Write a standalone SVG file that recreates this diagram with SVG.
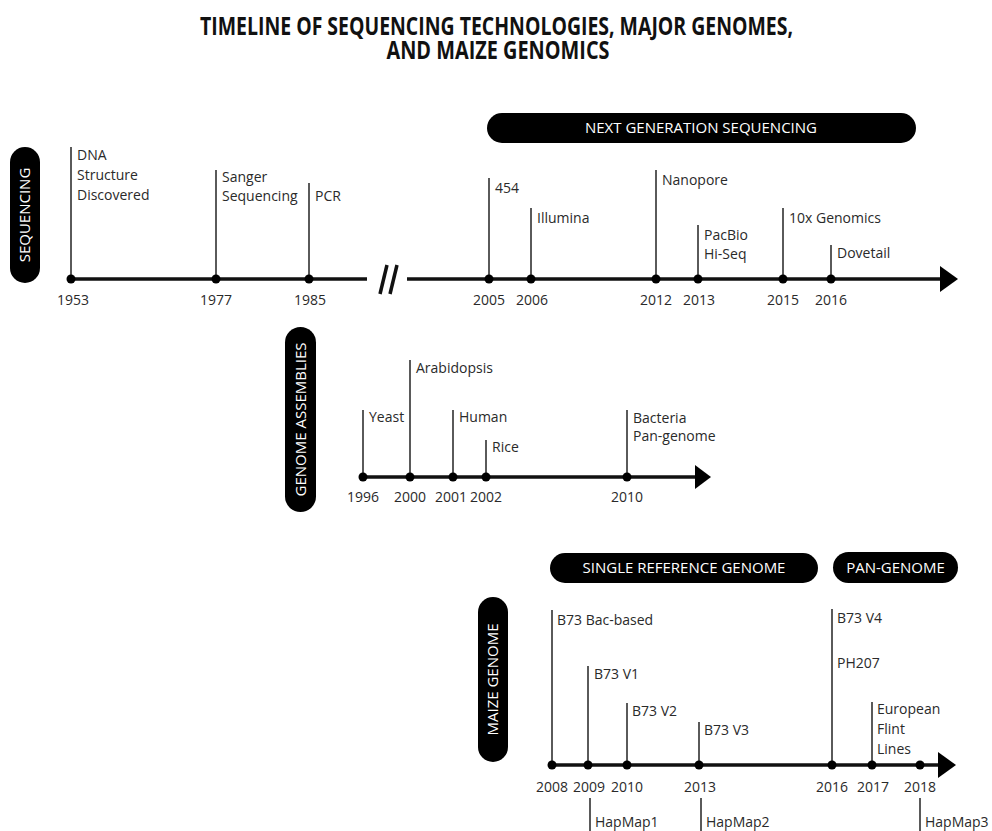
<svg xmlns="http://www.w3.org/2000/svg" width="992" height="831" viewBox="0 0 992 831">
<defs>
<style>
text{font-family:"Open Sans","Liberation Sans",sans-serif;fill:#2a2a2a;font-size:14px}
.title{font-weight:bold;font-size:25px;fill:#111;text-anchor:middle}
.yr{text-anchor:middle}
.pill{fill:#000}
.pt{fill:#fff;font-size:15px;text-anchor:middle}
.tick{stroke:#5a5a5a;stroke-width:2}
.axis{stroke:#111;stroke-width:3.5;fill:none}
.dot{fill:#000}
.arr{fill:#000}
</style>
</defs>
<rect width="992" height="831" fill="#fff"/>
<g id="title">
<text class="title" x="496.5" y="35" textLength="593" lengthAdjust="spacingAndGlyphs">TIMELINE OF SEQUENCING TECHNOLOGIES, MAJOR GENOMES,</text>
<text class="title" x="498" y="59" textLength="223" lengthAdjust="spacingAndGlyphs">AND MAIZE GENOMICS</text>
</g>
<g id="connectors">
<line class="axis" x1="71" y1="279" x2="367" y2="279"/>
<line class="axis" x1="407" y1="279" x2="942" y2="279"/>
<polygon class="arr" points="940,266 958,279 940,292"/>
<line class="axis" x1="387" y1="265" x2="380" y2="294"/>
<line class="axis" x1="397" y1="265" x2="390" y2="294"/>
<line class="axis" x1="363" y1="477" x2="697" y2="477"/>
<polygon class="arr" points="695,465 711,477 695,489"/>
<line class="axis" x1="552" y1="765" x2="940" y2="765"/>
<polygon class="arr" points="938,752 956,765 938,778"/>
</g>
<g id="pill-sequencing">
<rect class="pill" x="10" y="147" width="30" height="136" rx="15"/>
<text class="pt" x="25" y="220.3" transform="rotate(-90 25 215)">SEQUENCING</text>
</g>
<g id="pill-ngs">
<rect class="pill" x="487" y="113" width="429" height="30" rx="15"/>
<text class="pt" x="701" y="133">NEXT GENERATION SEQUENCING</text>
</g>
<g id="pill-genome-assemblies">
<rect class="pill" x="285" y="327" width="31" height="185" rx="15.5"/>
<text class="pt" x="300.5" y="424.8" transform="rotate(-90 300.5 419.5)">GENOME ASSEMBLIES</text>
</g>
<g id="pill-srg">
<rect class="pill" x="550" y="553" width="268" height="30" rx="15"/>
<text class="pt" x="684" y="573">SINGLE REFERENCE GENOME</text>
</g>
<g id="pill-pan">
<rect class="pill" x="833" y="552" width="125" height="31" rx="15.5"/>
<text class="pt" x="895.5" y="573">PAN-GENOME</text>
</g>
<g id="pill-maize">
<rect class="pill" x="478" y="597" width="30" height="165" rx="15"/>
<text class="pt" x="493" y="684.8" transform="rotate(-90 493 679.5)">MAIZE GENOME</text>
</g>
<!-- Sequencing -->
<g id="seq-1953">
<line class="tick" x1="71" y1="147" x2="71" y2="279"/><circle class="dot" cx="71" cy="279" r="4.5"/>
<text x="77" y="160">DNA</text><text x="77" y="180">Structure</text><text x="77" y="200">Discovered</text>
<text class="yr" x="73" y="305">1953</text>
</g>
<g id="seq-1977">
<line class="tick" x1="216" y1="170" x2="216" y2="279"/><circle class="dot" cx="216" cy="279" r="4.5"/>
<text x="222" y="182">Sanger</text><text x="222" y="201">Sequencing</text>
<text class="yr" x="216" y="305">1977</text>
</g>
<g id="seq-1985">
<line class="tick" x1="309" y1="183" x2="309" y2="279"/><circle class="dot" cx="309" cy="279" r="4.5"/>
<text x="315" y="201">PCR</text>
<text class="yr" x="310" y="305">1985</text>
</g>
<g id="seq-2005">
<line class="tick" x1="489" y1="178" x2="489" y2="279"/><circle class="dot" cx="489" cy="279" r="4.5"/>
<text x="495" y="193">454</text>
<text class="yr" x="489" y="305">2005</text>
</g>
<g id="seq-2006">
<line class="tick" x1="531" y1="208" x2="531" y2="279"/><circle class="dot" cx="531" cy="279" r="4.5"/>
<text x="537" y="223">Illumina</text>
<text class="yr" x="532" y="305">2006</text>
</g>
<g id="seq-2012">
<line class="tick" x1="656" y1="170" x2="656" y2="279"/><circle class="dot" cx="656" cy="279" r="4.5"/>
<text x="662" y="185">Nanopore</text>
<text class="yr" x="656" y="305">2012</text>
</g>
<g id="seq-2013">
<line class="tick" x1="698" y1="225" x2="698" y2="279"/><circle class="dot" cx="698" cy="279" r="4.5"/>
<text x="704" y="240">PacBio</text><text x="704" y="259">Hi-Seq</text>
<text class="yr" x="699" y="305">2013</text>
</g>
<g id="seq-2015">
<line class="tick" x1="783" y1="208" x2="783" y2="279"/><circle class="dot" cx="783" cy="279" r="4.5"/>
<text x="789" y="223">10x Genomics</text>
<text class="yr" x="783" y="305">2015</text>
</g>
<g id="seq-2016">
<line class="tick" x1="831" y1="245" x2="831" y2="279"/><circle class="dot" cx="831" cy="279" r="4.5"/>
<text x="837" y="258">Dovetail</text>
<text class="yr" x="831" y="305">2016</text>
</g>
<!-- Genome assemblies -->
<g id="ga-1996">
<line class="tick" x1="363" y1="410" x2="363" y2="477"/><circle class="dot" cx="363" cy="477" r="4.5"/>
<text x="369" y="422">Yeast</text>
<text class="yr" x="363" y="502">1996</text>
</g>
<g id="ga-2000">
<line class="tick" x1="410" y1="360" x2="410" y2="477"/><circle class="dot" cx="410" cy="477" r="4.5"/>
<text x="416" y="373">Arabidopsis</text>
<text class="yr" x="410" y="502">2000</text>
</g>
<g id="ga-2001">
<line class="tick" x1="453" y1="410" x2="453" y2="477"/><circle class="dot" cx="453" cy="477" r="4.5"/>
<text x="459" y="422">Human</text>
<text class="yr" x="451" y="502">2001</text>
</g>
<g id="ga-2002">
<line class="tick" x1="486" y1="440" x2="486" y2="477"/><circle class="dot" cx="486" cy="477" r="4.5"/>
<text x="492" y="452">Rice</text>
<text class="yr" x="486" y="502">2002</text>
</g>
<g id="ga-2010">
<line class="tick" x1="627" y1="410" x2="627" y2="477"/><circle class="dot" cx="627" cy="477" r="4.5"/>
<text x="633" y="423">Bacteria</text><text x="633" y="441">Pan-genome</text>
<text class="yr" x="627" y="502">2010</text>
</g>
<!-- Maize genome -->
<g id="mz-2008">
<line class="tick" x1="552" y1="610" x2="552" y2="765"/><circle class="dot" cx="552" cy="765" r="4.5"/>
<text x="557" y="625">B73 Bac-based</text>
<text class="yr" x="552" y="792">2008</text>
</g>
<g id="mz-2009">
<line class="tick" x1="588" y1="666" x2="588" y2="765"/><circle class="dot" cx="588" cy="765" r="4.5"/>
<text x="594" y="679">B73 V1</text>
<text class="yr" x="589" y="792">2009</text>
<line class="tick" x1="590" y1="798" x2="590" y2="831"/>
<text x="595" y="827">HapMap1</text>
</g>
<g id="mz-2010">
<line class="tick" x1="627" y1="703" x2="627" y2="765"/><circle class="dot" cx="627" cy="765" r="4.5"/>
<text x="632" y="716">B73 V2</text>
<text class="yr" x="627" y="792">2010</text>
</g>
<g id="mz-2013">
<line class="tick" x1="699" y1="722" x2="699" y2="765"/><circle class="dot" cx="699" cy="765" r="4.5"/>
<text x="704" y="735">B73 V3</text>
<text class="yr" x="700" y="792">2013</text>
<line class="tick" x1="701" y1="798" x2="701" y2="831"/>
<text x="706" y="827">HapMap2</text>
</g>
<g id="mz-2016">
<line class="tick" x1="832" y1="609" x2="832" y2="765"/><circle class="dot" cx="832" cy="765" r="4.5"/>
<text x="837" y="623">B73 V4</text><text x="837" y="668">PH207</text>
<text class="yr" x="832" y="792">2016</text>
</g>
<g id="mz-2017">
<line class="tick" x1="872" y1="702" x2="872" y2="765"/><circle class="dot" cx="872" cy="765" r="4.5"/>
<text x="877" y="714">European</text><text x="877" y="734">Flint</text><text x="877" y="754">Lines</text>
<text class="yr" x="873" y="792">2017</text>
</g>
<g id="mz-2018">
<circle class="dot" cx="920" cy="765" r="4.5"/>
<text class="yr" x="920" y="792">2018</text>
<line class="tick" x1="920" y1="798" x2="920" y2="831"/>
<text x="925" y="827">HapMap3</text>
</g>
</svg>
